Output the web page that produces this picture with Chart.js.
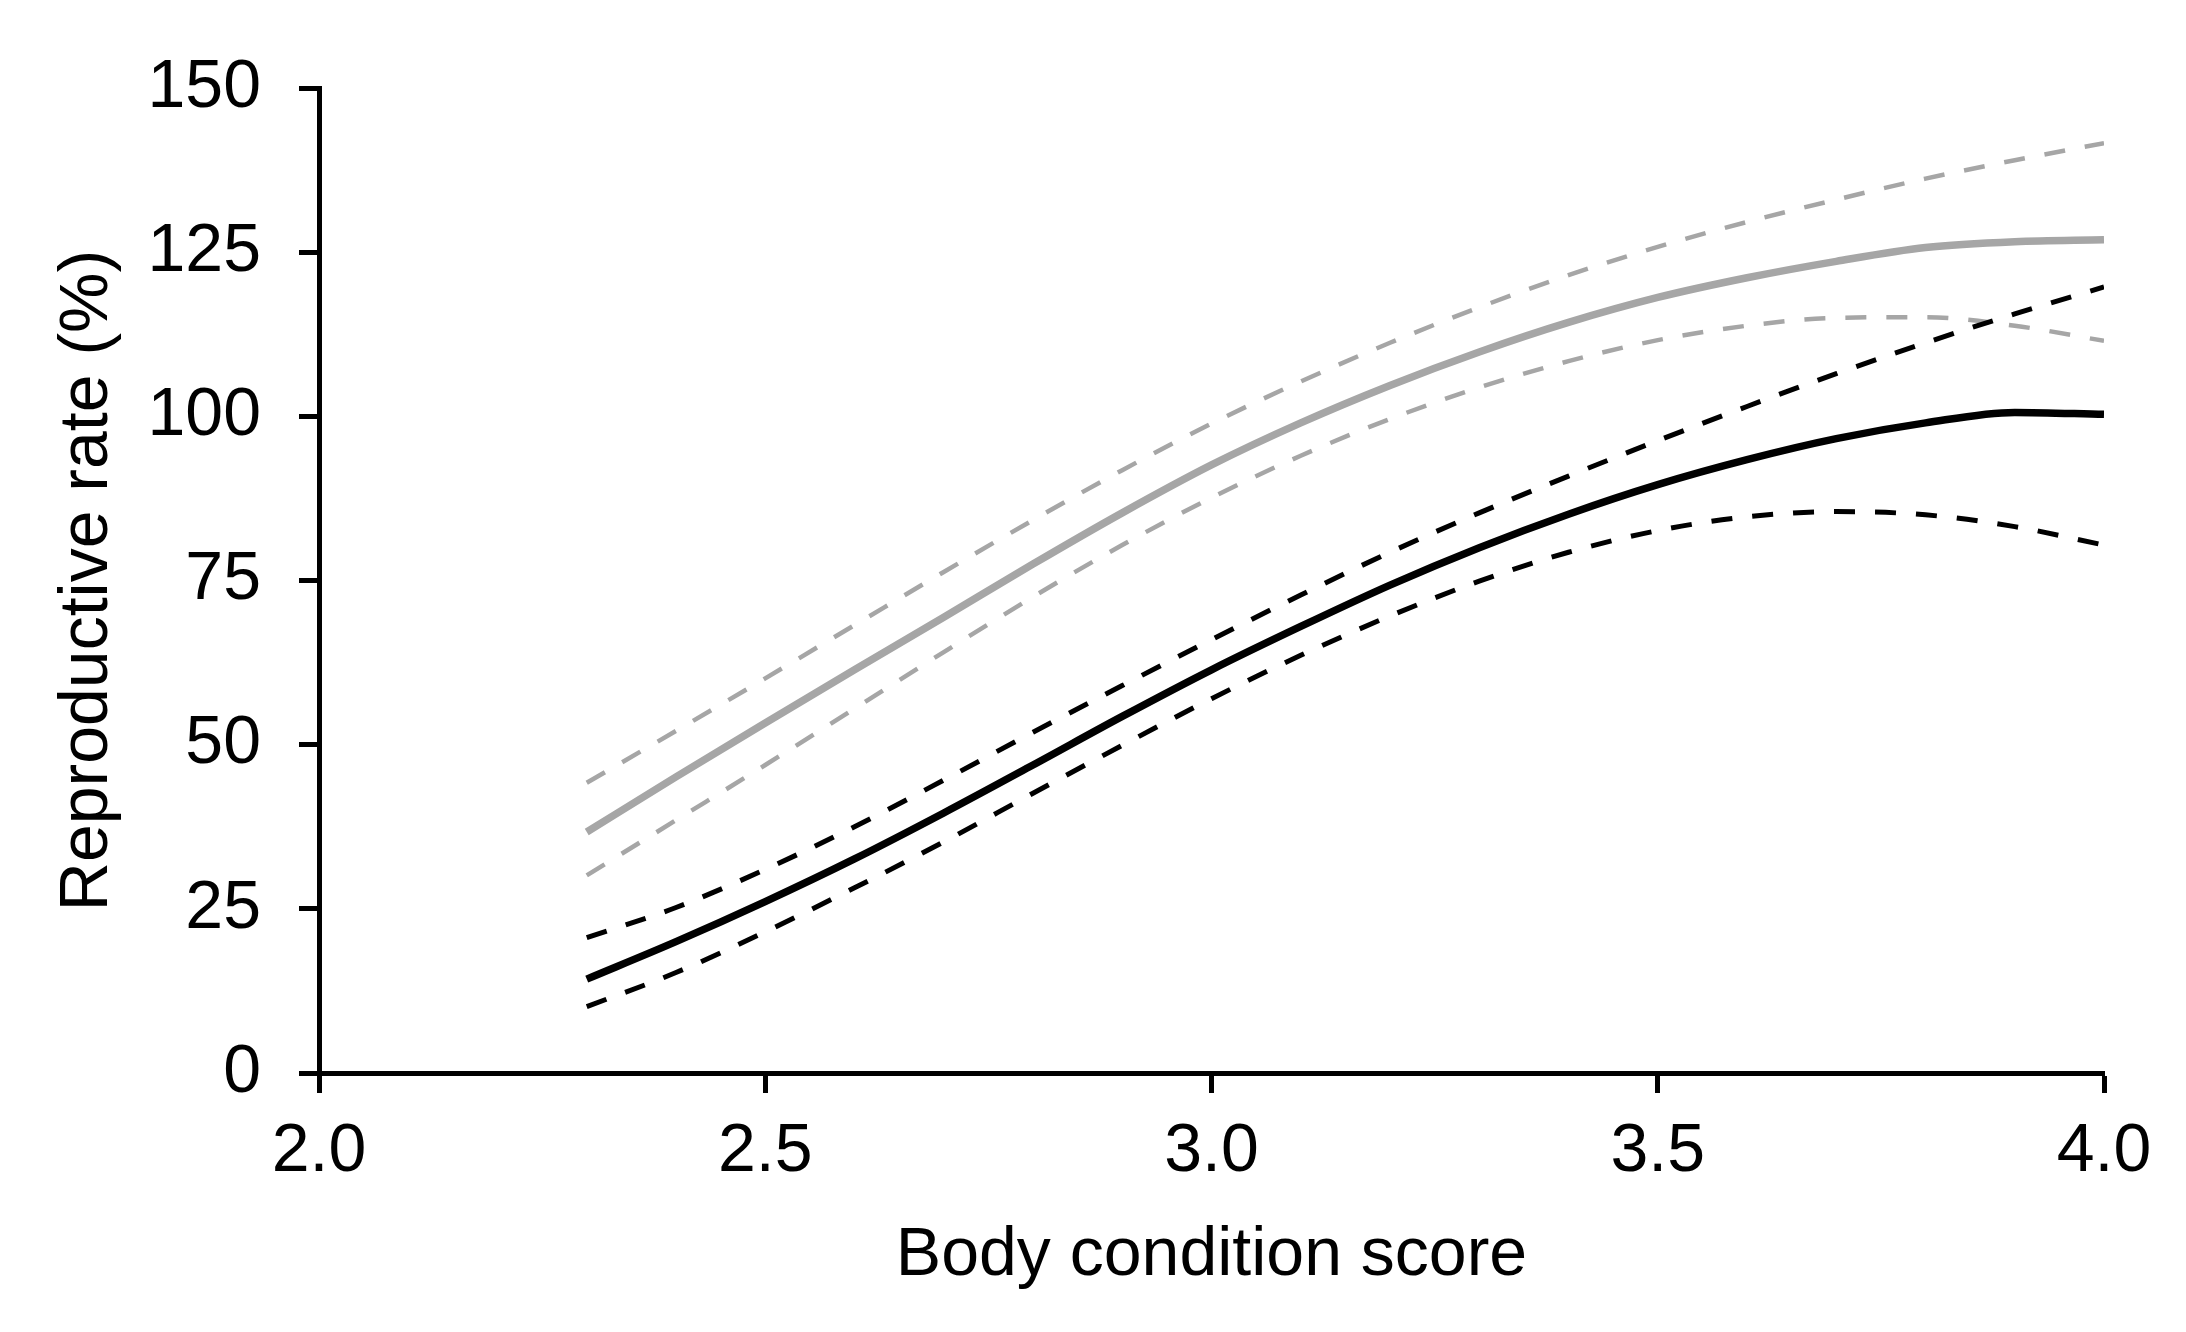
<!DOCTYPE html>
<html>
<head>
<meta charset="utf-8">
<script src="https://cdn.jsdelivr.net/npm/chart.js@4/dist/chart.umd.min.js"></script>
<style>
  html, body { margin: 0; padding: 0; background: #fff; }
  #wrap { width: 2186px; height: 1332px; }
</style>
</head>
<body>
<div id="wrap"><canvas id="bcsChart" width="2186" height="1332"></canvas></div>
<script>
// Body condition score vs reproductive rate, two groups with dashed confidence bands
const bcs = [2.3, 2.4, 2.5, 2.6, 2.7, 2.8, 2.9, 3.0, 3.1, 3.2, 3.3, 3.4, 3.5, 3.6, 3.7, 3.8, 3.9, 4.0];

const greyMean  = [36.7, 45.1, 53.3, 61.4, 69.4, 77.5, 85.3, 92.6, 99.0, 104.7, 109.8, 114.3, 118.1, 121.1, 123.6, 125.7, 126.6, 126.9];
const greyUpper = [44.2, 52.1, 60.1, 68.2, 76.3, 84.2, 91.8, 98.9, 105.3, 111.2, 116.6, 121.5, 125.8, 129.6, 133.0, 136.2, 139.0, 141.6];
const greyLower = [30.1, 38.5, 46.9, 55.5, 64.1, 72.5, 80.4, 87.6, 94.0, 99.6, 104.4, 108.4, 111.6, 113.8, 115.0, 115.1, 113.8, 111.5];

const blackMean  = [14.3, 20.0, 26.1, 32.6, 39.6, 46.9, 54.3, 61.4, 68.0, 74.3, 80.0, 85.1, 89.6, 93.4, 96.6, 99.0, 100.6, 100.3];
const blackUpper = [20.6, 25.2, 31.0, 37.5, 44.6, 51.9, 59.0, 66.0, 72.8, 79.3, 85.3, 90.9, 96.3, 101.5, 106.5, 111.2, 115.6, 119.7];
const blackLower = [10.1, 15.3, 21.5, 28.2, 35.2, 42.6, 49.9, 57.0, 63.6, 69.6, 74.9, 79.3, 82.6, 84.7, 85.5, 85.0, 83.2, 80.4];

const xTicks = [2.0, 2.5, 3.0, 3.5, 4.0];
const yTicks = [0, 25, 50, 75, 100, 125, 150];

const GREY = "#a6a6a6";
const FONT = "'Liberation Sans', Arial, sans-serif";

function pts(ys) {
  return bcs.map((x, i) => ({ x: x, y: ys[i] }));
}

function line(ys, color, width, dashed) {
  return {
    data: pts(ys),
    borderColor: color,
    borderWidth: width,
    borderDash: dashed ? [21, 20] : [],
    pointRadius: 0,
    fill: false,
    cubicInterpolationMode: "monotone"
  };
}

const axisGrid = {
  display: true,
  drawOnChartArea: false,
  drawTicks: true,
  tickLength: 20,
  tickWidth: 5,
  tickColor: "#000"
};

new Chart(document.getElementById("bcsChart"), {
  type: "line",
  data: {
    datasets: [
      // black drawn on top of grey
      line(blackMean, "#000", 7.5, false),
      line(blackUpper, "#000", 5, true),
      line(blackLower, "#000", 5, true),
      line(greyMean, GREY, 7.5, false),
      line(greyUpper, GREY, 4.5, true),
      line(greyLower, GREY, 4.5, true)
    ]
  },
  options: {
    responsive: false,
    animation: false,
    events: [],
    layout: { padding: { top: 88, right: 82, left: 0, bottom: 0 } },
    plugins: {
      legend: { display: false },
      tooltip: { enabled: false }
    },
    scales: {
      x: {
        type: "linear",
        min: 2,
        max: 4,
        afterFit: s => { s.height = 259; },
        afterBuildTicks: s => { s.ticks = xTicks.map(v => ({ value: v })); },
        grid: axisGrid,
        border: { display: true, color: "#000", width: 5 },
        ticks: {
          color: "#000",
          padding: 18,
          maxRotation: 0,
          font: { family: FONT, size: 68 },
          callback: v => Number(v).toFixed(1)
        },
        title: {
          display: true,
          text: "Body condition score",
          color: "#000",
          font: { family: FONT, size: 68 },
          padding: { top: 0, bottom: 35 }
        }
      },
      y: {
        min: 0,
        max: 150,
        afterFit: s => { s.width = 319; },
        afterBuildTicks: s => { s.ticks = yTicks.map(v => ({ value: v })); },
        grid: axisGrid,
        border: { display: true, color: "#000", width: 5 },
        ticks: {
          color: "#000",
          padding: 38,
          font: { family: FONT, size: 68 }
        },
        title: {
          display: true,
          text: "Reproductive rate (%)",
          color: "#000",
          font: { family: FONT, size: 68 },
          padding: { top: 47, bottom: 0 }
        }
      }
    }
  }
});
</script>
</body>
</html>
